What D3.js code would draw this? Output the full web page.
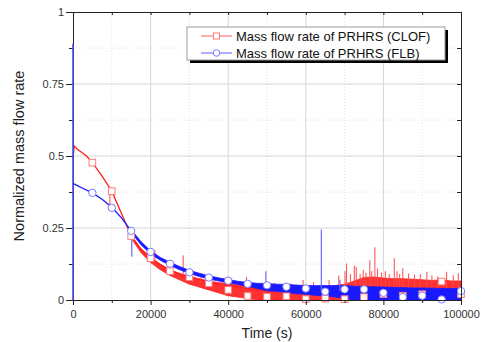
<!DOCTYPE html>
<html><head><meta charset="utf-8">
<script src="https://cdn.jsdelivr.net/npm/d3@7"></script>
<style>
body{margin:0;background:#fff;}
svg{display:block;font-family:"Liberation Sans",Arial,sans-serif;}
</style></head>
<body><svg id="c" width="482" height="342"></svg>
<script>
// ---------- data ----------
const xMajorTicks = [0, 20000, 40000, 60000, 80000, 100000];
const xMinorTicks = [10000, 30000, 50000, 70000, 90000];
const yMajorTicks = [0, 0.25, 0.5, 0.75, 1];
const yTickLabels = ["0", "0.25", "0.5", "0.75", "1"];
const yMinorTicks = [0.125, 0.375, 0.625, 0.875];

const seriesNames = ["Mass flow rate of PRHRS (CLOF)", "Mass flow rate of PRHRS (FLB)"];

// smooth part of each curve
const redLineT = [0, 300, 1000, 2000, 3500, 5000, 7500, 10000, 12500, 15000, 17500, 20000, 22500, 25000, 27500, 30000, 35000, 40000, 45000, 50000, 60000, 70000, 80000, 90000, 100000];
const redLineV = [0.49, 0.535, 0.525, 0.515, 0.5, 0.477, 0.43, 0.378, 0.30, 0.222, 0.177, 0.147, 0.123, 0.104, 0.091, 0.08, 0.062, 0.05, 0.04, 0.033, 0.025, 0.028, 0.04, 0.035, 0.035];
const blueLineT = [0, 1000, 2500, 5000, 7500, 10000, 12500, 15000, 17500, 20000, 22500, 25000, 27500, 30000, 32500, 35000, 37500, 40000, 45000, 50000, 55000, 60000, 65000, 70000, 75000, 80000, 85000, 90000, 95000, 100000];
const blueLineV = [0.405, 0.398, 0.388, 0.372, 0.35, 0.322, 0.285, 0.24, 0.198, 0.166, 0.143, 0.126, 0.11, 0.097, 0.087, 0.078, 0.072, 0.066, 0.055, 0.046, 0.04, 0.035, 0.03, 0.027, 0.024, 0.022, 0.02, 0.019, 0.018, 0.018];

// noise envelopes
const bandT   = [15000, 17500, 20000, 22500, 25000, 27500, 30000, 32500, 35000, 37500, 40000, 42500, 45000, 47500, 50000, 52500, 55000, 57500, 60000, 62500, 65000, 67500, 70000, 72500, 75000, 77500, 80000, 82500, 85000, 87500, 90000, 92500, 95000, 97500, 100000];
const redLo   = [0.215, 0.165, 0.13, 0.105, 0.085, 0.07, 0.055, 0.045, 0.035, 0.025, 0.015, 0.01, 0.005, 0, 0, 0, 0, 0, 0, 0, 0, 0, 0, 0, 0, 0, 0, 0, 0, 0, 0, 0, 0, 0, 0];
const redHi   = [0.225, 0.178, 0.148, 0.124, 0.104, 0.092, 0.082, 0.074, 0.066, 0.06, 0.057, 0.054, 0.05, 0.05, 0.046, 0.045, 0.042, 0.042, 0.044, 0.045, 0.046, 0.05, 0.055, 0.066, 0.078, 0.08, 0.076, 0.074, 0.074, 0.072, 0.07, 0.068, 0.07, 0.066, 0.066];
const blueLo  = [0.235, 0.192, 0.16, 0.138, 0.12, 0.105, 0.092, 0.082, 0.073, 0.066, 0.06, 0.054, 0.048, 0.04, 0.032, 0.03, 0.026, 0.022, 0.02, 0.016, 0.013, 0.01, 0.005, 0, 0, 0, 0, 0, 0, 0, 0, 0, 0, 0, 0];
const blueHi  = [0.245, 0.203, 0.171, 0.148, 0.131, 0.116, 0.103, 0.093, 0.084, 0.077, 0.071, 0.065, 0.061, 0.058, 0.057, 0.055, 0.054, 0.052, 0.05, 0.05, 0.05, 0.05, 0.05, 0.048, 0.047, 0.046, 0.045, 0.044, 0.043, 0.042, 0.042, 0.041, 0.04, 0.04, 0.04];

// spikes: [time, from, to]
const redSpikes = [[9500, 0.33, 0.37], [21100, 0.14, 0.174], [28400, 0.085, 0.155], [33000, 0.06, 0.085], [38500, 0.045, 0.07], [44700, 0.04, 0.08], [52000, 0.03, 0.06], [56000, 0.03, 0.058], [59300, 0.03, 0.07], [62000, 0.03, 0.062],
  [66000, 0.03, 0.07], [68500, 0.03, 0.085], [70100, 0.03, 0.1], [70500, 0.03, 0.127], [71500, 0.03, 0.09], [72500, 0.03, 0.12], [73000, 0.03, 0.115],
  [74000, 0.03, 0.09], [74800, 0.03, 0.104], [75500, 0.03, 0.095], [76500, 0.03, 0.138], [77000, 0.03, 0.1], [77800, 0.03, 0.183], [78500, 0.03, 0.11],
  [79500, 0.03, 0.095], [80500, 0.03, 0.1], [81500, 0.03, 0.09], [82800, 0.03, 0.145], [83500, 0.03, 0.1], [84200, 0.03, 0.09], [85000, 0.03, 0.11],
  [86500, 0.03, 0.092], [88000, 0.03, 0.088], [89500, 0.03, 0.09], [91200, 0.03, 0.098], [92500, 0.03, 0.086], [94000, 0.03, 0.082], [96300, 0.03, 0.098],
  [98000, 0.03, 0.086], [99300, 0.03, 0.093]];
const blueSpikes = [[0, 0, 0.89], [15150, 0.15, 0.24], [49700, 0.04, 0.1], [64000, 0.03, 0.245], [68800, 0.03, 0.07]];

// markers
const markerT = [5000, 10000, 15000, 20000, 25000, 30000, 35000, 40000, 45000, 50000, 55000, 60000, 65000, 70000, 75000, 80000, 85000, 90000, 95000, 100000];
const redMarkV  = [0.477, 0.378, 0.222, 0.145, 0.10, 0.079, 0.058, 0.035, 0.014, 0.011, 0.013, 0.003, 0.005, 0.003, 0.01, 0.02, 0.015, 0.02, 0.064, 0.02];
const blueMarkV = [0.372, 0.32, 0.24, 0.167, 0.126, 0.096, 0.078, 0.067, 0.056, 0.051, 0.046, 0.04, 0.029, 0.037, 0.037, 0.025, 0.01, 0.015, 0.002, 0.031];

// ---------- drawing ----------
const svg = d3.select("#c");
const L = 73, R = 461, T = 12, B = 300;
const x = d3.scaleLinear([0, 100000], [L, R]);
const y = d3.scaleLinear([0, 1], [B, T]);

const red = "#ff2020", blue = "#1a1aff";
const redLight = "#ff7a7a", blueLight = "#7a7aff";

// grid
const g = svg.append("g");
g.selectAll(".gxm").data(xMinorTicks).join("line")
  .attr("x1", d => x(d)).attr("x2", d => x(d)).attr("y1", T).attr("y2", B)
  .attr("stroke", "#e2e2e2").attr("stroke-dasharray", "1,2");
g.selectAll(".gym").data(yMinorTicks).join("line")
  .attr("y1", d => y(d)).attr("y2", d => y(d)).attr("x1", L).attr("x2", R)
  .attr("stroke", "#e2e2e2").attr("stroke-dasharray", "1,2");
g.selectAll(".gx").data(xMajorTicks.slice(1, -1)).join("line")
  .attr("x1", d => x(d)).attr("x2", d => x(d)).attr("y1", T).attr("y2", B)
  .attr("stroke", "#d6d6d6");
g.selectAll(".gy").data(yMajorTicks.slice(1, -1)).join("line")
  .attr("y1", d => y(d)).attr("y2", d => y(d)).attr("x1", L).attr("x2", R)
  .attr("stroke", "#d6d6d6");

const plot = svg.append("g");
const line = d3.line().x(d => x(d[0])).y(d => y(d[1]));
const area = d3.area().x(d => x(d[0])).y0(d => y(d[1])).y1(d => y(d[2]));

// red series
plot.append("path").datum(redLineT.map((t, i) => [t, redLineV[i]]))
  .attr("d", line).attr("fill", "none").attr("stroke", red).attr("stroke-width", 1.3);
plot.append("path").datum(bandT.map((t, i) => [t, redLo[i], redHi[i]]))
  .attr("d", area).attr("fill", red).attr("fill-opacity", 0.92).attr("stroke", red).attr("stroke-width", 0.8);
plot.selectAll(".rs").data(redSpikes).join("line")
  .attr("x1", d => x(d[0])).attr("x2", d => x(d[0])).attr("y1", d => y(d[1])).attr("y2", d => y(d[2]))
  .attr("stroke", "#ff4a4a").attr("stroke-width", 1);

// blue series
plot.append("path").datum(bandT.map((t, i) => [t, blueLo[i], blueHi[i]]))
  .attr("d", area).attr("fill", blue).attr("stroke", blue).attr("stroke-width", 0.8);
plot.append("path").datum(blueLineT.map((t, i) => [t, blueLineV[i]]))
  .attr("d", line).attr("fill", "none").attr("stroke", blue).attr("stroke-width", 1.3);
plot.selectAll(".bs").data(blueSpikes).join("line")
  .attr("x1", d => x(d[0])).attr("x2", d => x(d[0])).attr("y1", d => y(d[1])).attr("y2", d => y(d[2]))
  .attr("stroke", "#6a6aff").attr("stroke-width", 1.2);

// markers
plot.selectAll(".rm").data(markerT.map((t, i) => [t, redMarkV[i]])).join("rect")
  .attr("x", d => x(d[0]) - 3.3).attr("y", d => y(d[1]) - 3.3).attr("width", 6.6).attr("height", 6.6)
  .attr("fill", "#fff").attr("stroke", redLight).attr("stroke-width", 1);
plot.selectAll(".bm").data(markerT.map((t, i) => [t, blueMarkV[i]])).join("circle")
  .attr("cx", d => x(d[0])).attr("cy", d => y(d[1])).attr("r", 3.7)
  .attr("fill", "#fff").attr("stroke", blueLight).attr("stroke-width", 1);

// axes
const axCol = "#222";
function styleAxis(sel) {
  sel.select(".domain").attr("stroke", axCol);
  sel.selectAll(".tick line").attr("stroke", axCol);
  sel.selectAll(".tick text").attr("fill", "#333").style("font-size", "11px")
    .style("font-family", '"Liberation Sans",Arial,sans-serif');
}
svg.append("g").attr("transform", `translate(0,${B})`)
  .call(d3.axisBottom(x).tickValues(xMajorTicks).tickSize(5).tickPadding(5).tickFormat(d3.format("d")))
  .call(styleAxis);
svg.append("g").attr("transform", `translate(0,${B})`)
  .call(d3.axisBottom(x).tickValues(xMinorTicks).tickSize(3).tickFormat(""))
  .call(styleAxis).select(".domain").remove();
svg.append("g").attr("transform", `translate(${L},0)`)
  .call(d3.axisLeft(y).tickValues(yMajorTicks).tickSize(7).tickPadding(2).tickFormat((d, i) => yTickLabels[i]))
  .call(styleAxis);
svg.append("g").attr("transform", `translate(${L},0)`)
  .call(d3.axisLeft(y).tickValues(yMinorTicks).tickSize(4).tickFormat(""))
  .call(styleAxis).select(".domain").remove();
// top and right frame with inward ticks
svg.append("g").attr("transform", `translate(0,${T})`)
  .call(d3.axisTop(x).tickValues(xMajorTicks.concat(xMinorTicks)).tickSizeInner(-3).tickSizeOuter(0).tickFormat(""))
  .call(styleAxis);
svg.append("g").attr("transform", `translate(${R},0)`)
  .call(d3.axisRight(y).tickValues(yMajorTicks.concat(yMinorTicks)).tickSizeInner(-4).tickSizeOuter(0).tickFormat(""))
  .call(styleAxis);
// blue initial spike over left axis
svg.selectAll(".bs0").data(blueSpikes.slice(0, 1)).join("line")
  .attr("x1", d => x(d[0])).attr("x2", d => x(d[0])).attr("y1", d => y(d[1])).attr("y2", d => y(d[2]))
  .attr("stroke", "#5555ff").attr("stroke-width", 1.4);

// axis titles
svg.append("text").attr("x", (L + R) / 2).attr("y", 338).attr("text-anchor", "middle")
  .style("font-size", "14px").attr("fill", "#222").text("Time (s)");
svg.append("text").attr("transform", `translate(24,${(T + B) / 2}) rotate(-90)`).attr("text-anchor", "middle")
  .style("font-size", "14.5px").attr("fill", "#222").text("Normalized mass flow rate");

// legend
const lg = svg.append("g");
lg.append("rect").attr("x", 190).attr("y", 30).attr("width", 258).attr("height", 33).attr("fill", "#000");
lg.append("rect").attr("x", 187).attr("y", 27).attr("width", 258).attr("height", 33).attr("fill", "#fff").attr("stroke", "#999");
const rows = [{c: redLight, m: "sq"}, {c: blueLight, m: "ci"}];
rows.forEach((r, i) => {
  const yy = 36 + i * 17;
  lg.append("line").attr("x1", 201).attr("x2", 232).attr("y1", yy).attr("y2", yy).attr("stroke", r.c).attr("stroke-width", 1.2);
  if (r.m === "sq") lg.append("rect").attr("x", 216.5 - 3).attr("y", yy - 3).attr("width", 6).attr("height", 6).attr("fill", "#fff").attr("stroke", r.c);
  else lg.append("circle").attr("cx", 216.5).attr("cy", yy).attr("r", 3.3).attr("fill", "#fff").attr("stroke", r.c);
  lg.append("text").attr("x", 236).attr("y", yy).attr("dy", "0.36em").style("font-size", "13px").attr("fill", "#111").text(seriesNames[i]);
});
</script></body></html>
